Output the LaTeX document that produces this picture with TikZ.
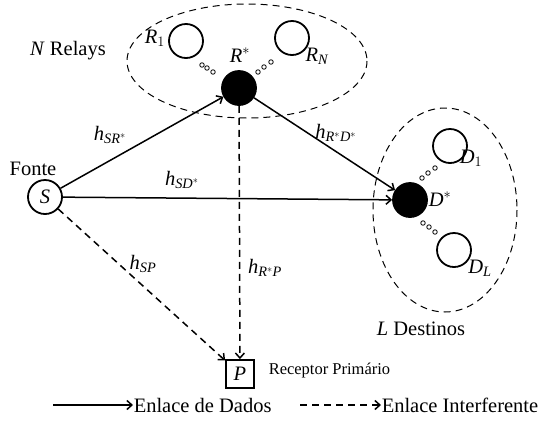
\RequirePackage{fix-cm}
\documentclass[tikz,border=0pt]{standalone}
\usepackage{fontspec}
\setmainfont{Liberation Serif}
\usepackage{tikz}
\usetikzlibrary{arrows.meta}
\tikzstyle{user} = [circle, draw, line width=1.8pt, minimum size=34pt, inner sep=0pt]
\tikzstyle{best} = [user, fill=black]
\tikzstyle{dot} = [circle, draw, line width=0.8pt, minimum size=4.5pt, inner sep=0pt]
\tikzstyle{rx} = [rectangle, draw, line width=1.8pt, minimum size=28pt, inner sep=0pt]
\tikzstyle{cluster} = [draw, dash pattern=on 7pt off 5pt, line width=1pt]
\tikzstyle{interf} = [dash pattern=on 7pt off 5pt]
\tikzstyle{small} = [font=\fontsize{16.5}{19}\selectfont]

\begin{document}
\begin{tikzpicture}[->,>={Straight Barb[length=5pt,width=9pt]},line width=1.5pt,x=1pt,y=-1pt,font=\fontsize{20.5}{24}\selectfont]
  \useasboundingbox (0,0) rectangle (541,421);
  % grupos de relays e destinos
  \draw[cluster,-] (247,61) ellipse (120 and 57);
  \draw[cluster,-] (445,210) ellipse (72 and 102);

  \node[user] (S) at (45,197) {$\mathit{S}$};
  \node (Fonte) at (33,169) {Fonte};
  \node[user] (R_1) at (186,41) {};
  \node[best] (R_star) at (239,88) {};
  \node[user] (R_N) at (292,38) {};
  \node[user] (D_1) at (450,146) {};
  \node[best] (D_star) at (410,200) {};
  \node[user] (D_L) at (454,250) {};
  \node[rx] (P) at (240,374) {$\mathit{P}$};

  \node (R_1_lbl) at (155,38) {$\mathit{R}_{1}$};
  \node (R_star_lbl) at (240,55) {$\mathit{R}^{*}$};
  \node (R_N_lbl) at (317,56) {$\mathit{R}_{\mathit{N}}$};
  \node (D_1_lbl) at (471,158) {$\mathit{D}_{1}$};
  \node (D_star_lbl) at (440,199) {$\mathit{D}^{*}$};
  \node (D_L_lbl) at (480,268) {$\mathit{D}_{\mathit{L}}$};
  \node (relays) at (68,51) {\textit{N} Relays};
  \node (destinos) at (421,329) {\textit{L} Destinos};
  \node[small, anchor=west, inner sep=0pt] (primario) at (268,371) {Receptor Prim\'ario};

  % pontinhos entre os nos
  \foreach \p [count=\i] in {(202,65),(207,68),(213,72),(258,72),(264,67),(271,62),
                             (422,178),(428,173),(435,168),(423,223),(429,227),(435,232)}
    \node[dot] (pt\i) at \p {};

  \path (S) edge (R_star);
  \path (R_star) edge (D_star);
  \path (S) edge (D_star);
  \path (S) edge[interf] (P);
  \path (R_star) edge[interf] (P);

  \node (h_SR) at (110,135) {$\mathit{h}_{\mathit{SR}^{*}}$};
  \node (h_RD) at (336,133) {$\mathit{h}_{\mathit{R}^{*}\mathit{D}^{*}}$};
  \node (h_SD) at (182,180) {$\mathit{h}_{\mathit{SD}^{*}}$};
  \node (h_SP) at (143,264) {$\mathit{h}_{\mathit{SP}}$};
  \node (h_RP) at (265,268) {$\mathit{h}_{\mathit{R}^{*}\mathit{P}}$};

  % legenda
  \coordinate (leg_a) at (53,405);
  \coordinate (leg_b) at (133,405);
  \coordinate (leg_c) at (300,405);
  \coordinate (leg_d) at (381,405);
  \draw (leg_a) -- (leg_b);
  \draw[interf] (leg_c) -- (leg_d);
  \node[anchor=west, inner sep=0pt] (dados) at (leg_b) {Enlace de Dados};
  \node[anchor=west, inner sep=0pt] (interferente) at (leg_d) {Enlace Interferente};
\end{tikzpicture}
\end{document}
